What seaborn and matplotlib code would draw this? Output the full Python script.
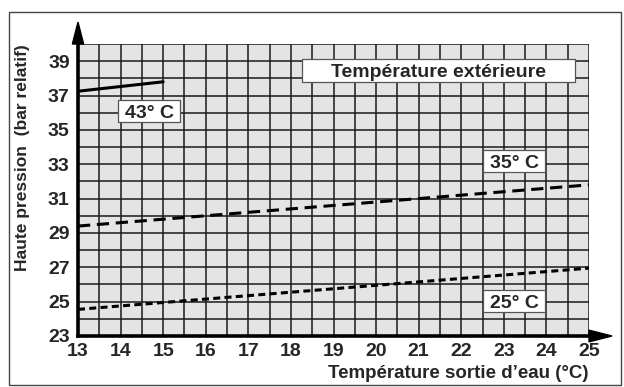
import numpy as np
import pandas as pd
import seaborn as sns
import matplotlib
matplotlib.use("Agg")
import matplotlib.pyplot as plt
from matplotlib.patches import Polygon, Rectangle

# Data
x_43 = [13, 15]
p_43 = [37.25, 37.8]
x_35 = [13, 25]
p_35 = [29.4, 31.8]
x_25 = [13, 25]
p_25 = [24.55, 26.95]
xticks = [13, 14, 15, 16, 17, 18, 19, 20, 21, 22, 23, 24, 25]
yticks = [23, 25, 27, 29, 31, 33, 35, 37, 39]
labels = ["43° C", "35° C", "25° C"]
xlabel = "Température sortie d\u2019eau (°C)"
ylabel = "Haute pression  (bar relatif)"
title_box = "Température extérieure"

sns.set_style("white")
plt.rcParams['font.family'] = ['Liberation Sans', 'DejaVu Sans']
plt.rcParams['font.weight'] = 'bold'

fig = plt.figure(figsize=(6.24, 3.87), dpi=100)
ax = fig.add_axes([78/624, 51/387, (589-78)/624, (336-44)/387])
ax.set_facecolor('#e4e4e4')

df43 = pd.DataFrame({'x': x_43, 'p': p_43})
df35 = pd.DataFrame({'x': x_35, 'p': p_35})
df25 = pd.DataFrame({'x': x_25, 'p': p_25})
sns.lineplot(data=df43, x='x', y='p', ax=ax, color='black', lw=2.2, zorder=5)
sns.lineplot(data=df35, x='x', y='p', ax=ax, color='black', lw=2.2, zorder=5,
             linestyle=(0, (4.0, 2.2)))
sns.lineplot(data=df25, x='x', y='p', ax=ax, color='black', lw=2.2, zorder=5,
             linestyle=(0, (2.3, 1.4)))

ax.set_xlim(13, 25)
ax.set_ylim(23, 40)
ax.set_xticks(np.arange(13, 25.01, 0.5), minor=True)
ax.set_yticks(np.arange(23, 40.01, 1), minor=True)
ax.set_xticks(xticks)
ax.set_yticks(yticks)
ax.set_xticklabels([str(v) for v in xticks], fontsize=14, fontweight='bold')
ax.set_yticklabels([str(v) for v in yticks], fontsize=14, fontweight='bold')
ax.grid(which='both', color='#1a1a1a', lw=1.1, zorder=1)
ax.set_axisbelow(True)
ax.tick_params(which='both', length=0)
ax.tick_params(axis='x', pad=5)
ax.tick_params(axis='y', pad=6)
for s in ['top', 'right']:
    ax.spines[s].set_visible(False)
for s in ['left', 'bottom']:
    ax.spines[s].set_linewidth(2.6)
    ax.spines[s].set_color('black')
ax.set_xlabel('')
ax.set_ylabel('')

# arrows
trans = ax.transAxes
hy = Polygon([[-0.011, 1.0], [0.011, 1.0], [0.0, 1.075]], closed=True,
             transform=trans, color='black', clip_on=False, zorder=6)
ax.add_patch(hy)
hx = Polygon([[1.0, -0.02], [1.0, 0.02], [1.045, 0.0]], closed=True,
             transform=trans, color='black', clip_on=False, zorder=6)
ax.add_patch(hx)


def px2d(px, py):
    return 13 + (px - 78) / 42.58, 23 + (336 - py) / 17.18


def box(x0, y0, x1, y1, text):
    a = px2d(x0, y1)
    b = px2d(x1, y0)
    ax.add_patch(Rectangle(a, b[0] - a[0], b[1] - a[1], fc='white',
                           ec='#555555', lw=0.9, zorder=6))
    ax.text((a[0] + b[0]) / 2, (a[1] + b[1]) / 2, text, ha='center',
            va='center_baseline', fontsize=14, fontweight='bold', zorder=7)


box(118, 100, 180, 122, labels[0])
box(483, 150, 545, 172, labels[1])
box(483, 290, 545, 312, labels[2])
box(302, 59, 575, 82, title_box)

fig.text(588/624, 1 - 373/387, xlabel, ha='right', va='center', fontsize=13.5,
         fontweight='bold')
fig.text(23/624, 1 - 158/387, ylabel, ha='center', va='center', fontsize=12.5,
         fontweight='bold', rotation=90)

# outer frame
fig.add_artist(Rectangle((9/624, 2/387), (621-9)/624, (375-2)/387,
                         transform=fig.transFigure, fill=False, ec='#444444',
                         lw=1.0))

fig.savefig('out.png', dpi=100)
